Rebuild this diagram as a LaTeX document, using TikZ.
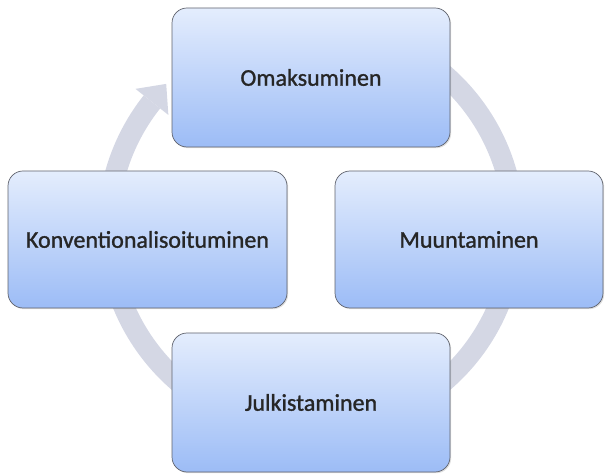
\documentclass[tikz,border=0pt]{standalone}
\usepackage{fontspec}
\setmainfont{Carlito}
\newfontfamily\boxfont[FakeBold=1.2]{Carlito}
\usetikzlibrary{calc,shadows}
\definecolor{ringc}{RGB}{212,215,228}
\definecolor{boxtop}{RGB}{228,237,253}
\definecolor{boxbot}{RGB}{156,188,246}
\definecolor{boxline}{RGB}{95,98,108}
\tikzset{
  stagebox/.style={rectangle, rounded corners=15pt, draw=boxline, line width=0.7pt,
    top color=boxtop, bottom color=boxbot, text=black!85,
    font=\boxfont\fontsize{24}{28}\selectfont, inner sep=0pt,
    drop shadow={shadow xshift=1.2pt, shadow yshift=-1.2pt, opacity=0.25}},
  ringline/.style={draw=ringc, line width=21pt},
  ringhead/.style={fill=ringc, draw=none}
}
\begin{document}
\begin{tikzpicture}[x=1pt,y=1pt]
\useasboundingbox (0,0) rectangle (605,474);
\coordinate (c) at (311,246);
% ring with arrow
\draw[ringline] ($(c)+(80:203)$) arc[start angle=80, end angle=-218.4, radius=203];
\coordinate (hb1) at ($(c)+(141.6:182)$);
\coordinate (hb2) at ($(c)+(141.6:224)$);
\coordinate (htip) at ($(c)+(141.6:203)+(51.6:23)$);
\fill[ringhead] (hb1) -- (hb2) -- (htip) -- cycle;
% boxes
\node[stagebox, minimum width=278pt, minimum height=139pt] (top) at (311,396.5) {Omaksuminen};
\node[stagebox, minimum width=268pt, minimum height=137pt] (right) at (469,234.5) {Muuntaminen};
\node[stagebox, minimum width=278pt, minimum height=139pt] (bottom) at (311,71.5) {Julkistaminen};
\node[stagebox, minimum width=279pt, minimum height=137pt] (left) at (147.5,234.5) {Konventionalisoituminen};
\end{tikzpicture}
\end{document}
